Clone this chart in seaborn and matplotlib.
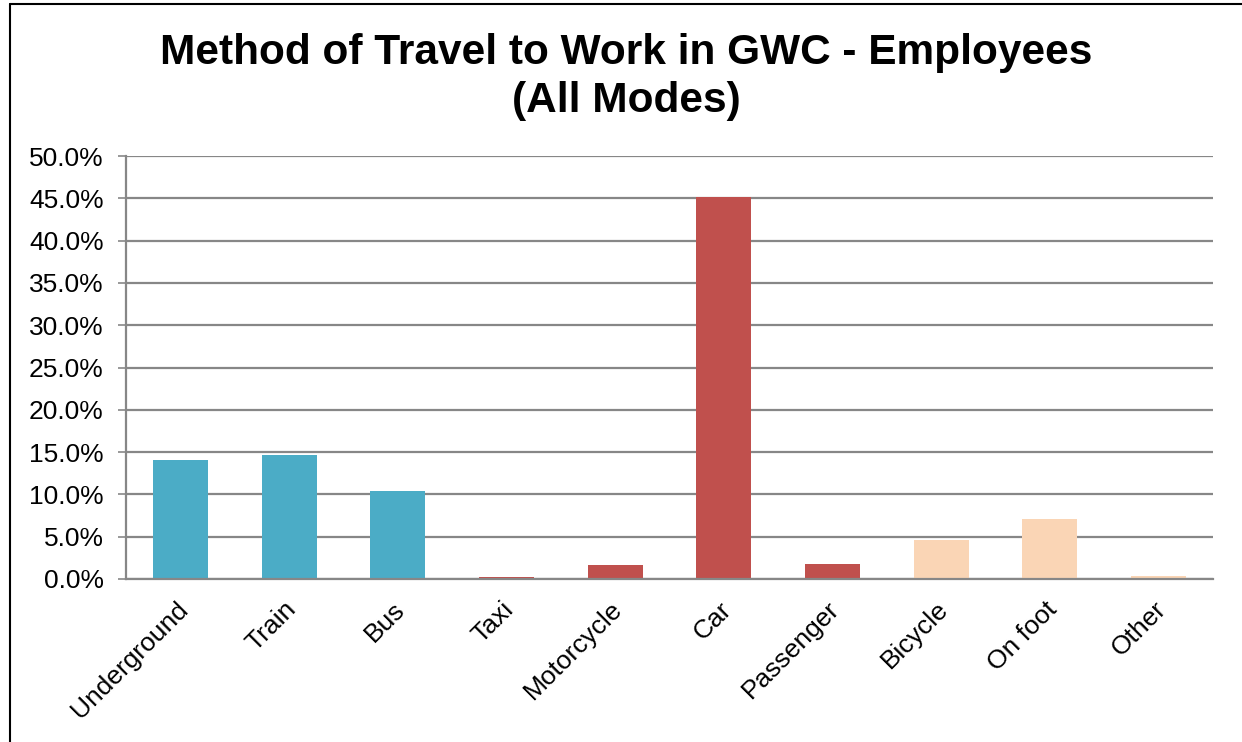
import matplotlib
matplotlib.use("Agg")
import matplotlib.pyplot as plt
from matplotlib.lines import Line2D
from matplotlib.ticker import MultipleLocator, FuncFormatter
from matplotlib.transforms import ScaledTranslation
import seaborn as sns
import pandas as pd

# Share of employees by main mode of travel to work (%)
modes = ["Underground", "Train", "Bus", "Taxi", "Motorcycle", "Car",
         "Passenger", "Bicycle", "On foot", "Other"]
shares = [14.1, 14.7, 10.4, 0.2, 1.6, 45.1, 1.8, 4.6, 7.1, 0.4]
groups = ["Public", "Public", "Public", "Private", "Private", "Private",
          "Private", "Active", "Active", "Active"]

group_colors = {"Public": "#4BACC6", "Private": "#C0504D", "Active": "#FAD5B5"}

sns.set_theme(style="white")
plt.rcParams["font.family"] = ["Liberation Sans", "DejaVu Sans"]

df = pd.DataFrame({"mode": modes, "share": shares, "group": groups})

fig = plt.figure(figsize=(12.42, 7.42), dpi=100)
ax = fig.add_axes([126 / 1242, 1 - 579 / 742, (1213 - 126) / 1242, (579 - 156) / 742])

sns.barplot(data=df, x="mode", y="share", hue="group", palette=group_colors,
            dodge=False, width=0.506, legend=False, saturation=1,
            linewidth=0, edgecolor="none", ax=ax)

ax.set_ylim(0, 50)
ax.set_xlim(-0.5, len(modes) - 0.5)
ax.yaxis.set_major_locator(MultipleLocator(5))
ax.yaxis.set_major_formatter(FuncFormatter(lambda v, _: f"{v:.1f}%"))
ax.grid(axis="y", color="#878787", linewidth=1.6)
ax.set_axisbelow(True)
ax.set_xlabel("")
ax.set_ylabel("")

for side in ["top", "right"]:
    ax.spines[side].set_visible(False)
for side in ["left", "bottom"]:
    ax.spines[side].set_color("#878787")
    ax.spines[side].set_linewidth(1.6)

ax.tick_params(axis="y", which="major", left=True, length=6, width=1.2,
               color="#878787", labelsize=19, labelcolor="black", pad=10)
ax.tick_params(axis="x", bottom=False, labelsize=19, labelcolor="black", pad=7)
ax.set_xticks(range(len(modes)))
ax.set_xticklabels(modes, rotation=45, ha="right", rotation_mode="anchor")
shift = ScaledTranslation(-5 / 100, 0, fig.dpi_scale_trans)
for lbl in ax.get_xticklabels():
    lbl.set_transform(lbl.get_transform() + shift)

fig.text(626 / 1242, 1 - 53 / 742, "Method of Travel to Work in GWC - Employees",
         ha="center", va="center", fontsize=30.5, fontweight="bold", color="black")
fig.text(626 / 1242, 1 - 101 / 742, "(All Modes)",
         ha="center", va="center", fontsize=30.5, fontweight="bold", color="black")

# Outer chart frame (left and top edges)
fig.add_artist(Line2D([9.5 / 1242, 9.5 / 1242], [0, 1 - 4 / 742],
                      transform=fig.transFigure, color="black", linewidth=1.5))
fig.add_artist(Line2D([9.5 / 1242, 1], [1 - 4 / 742, 1 - 4 / 742],
                      transform=fig.transFigure, color="black", linewidth=1.5))

fig.savefig("out.png", dpi=100, facecolor="white")
